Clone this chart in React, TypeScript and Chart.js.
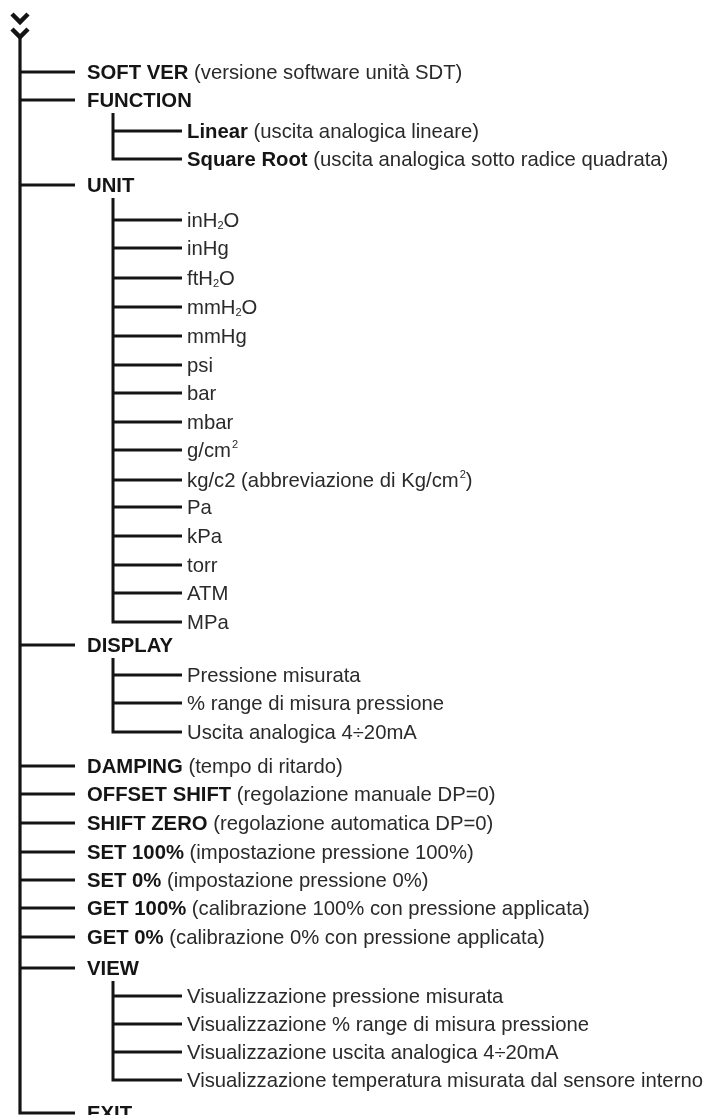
import React, { useEffect, useRef } from "react";
import { Chart, registerables } from "chart.js";

Chart.register(...registerables);

// ---- data (tree rows: y position of each row, label markup) ----
// markup: **bold**, _2 = subscript char, ^2 = superscript char
const mainLabels = [
  "**SOFT VER** (versione software unità SDT)",
  "**FUNCTION**",
  "**UNIT**",
  "**DISPLAY**",
  "**DAMPING** (tempo di ritardo)",
  "**OFFSET SHIFT** (regolazione manuale DP=0)",
  "**SHIFT ZERO** (regolazione automatica DP=0)",
  "**SET 100%** (impostazione pressione 100%)",
  "**SET 0%** (impostazione pressione 0%)",
  "**GET 100%** (calibrazione 100% con pressione applicata)",
  "**GET 0%** (calibrazione 0% con pressione applicata)",
  "**VIEW**",
  "**EXIT**",
];
const mainY = [72, 100, 185, 645, 766, 794, 823, 852, 880, 908, 937, 968, 1113];

const functionLabels = [
  "**Linear** (uscita analogica lineare)",
  "**Square Root** (uscita analogica sotto radice quadrata)",
];
const functionY = [131, 159];

const unitLabels = [
  "inH_2O", "inHg", "ftH_2O", "mmH_2O", "mmHg", "psi", "bar", "mbar", "g/cm^2",
  "kg/c2 (abbreviazione di Kg/cm^2)", "Pa", "kPa", "torr", "ATM", "MPa",
];
const unitY = [220, 248, 278, 307, 336, 365, 393, 422, 450, 480, 507, 536, 565, 593, 622];

const displayLabels = [
  "Pressione misurata",
  "% range di misura pressione",
  "Uscita analogica 4÷20mA",
];
const displayY = [675, 703, 732];

const viewLabels = [
  "Visualizzazione pressione misurata",
  "Visualizzazione % range di misura pressione",
  "Visualizzazione uscita analogica 4÷20mA",
  "Visualizzazione temperatura misurata dal sensore interno",
];
const viewY = [996, 1024, 1052, 1080];

// tree x levels
const trunkX = 20;
const mainBranchEnd = 75;
const mainTextX = 87;
const subTrunkX = 113;
const subBranchEnd = 182;
const subTextX = 187;
const trunkTop = 34;

const FONT = '"Liberation Sans", Arial, Helvetica, sans-serif';
const FS = 20.3;
const INK = "#141414";

type Pt = { x: number; y: number };

function buildLines() {
  const sets: { pts: Pt[]; w: number }[] = [];
  // chevrons
  sets.push({ pts: [{ x: 12, y: 14 }, { x: trunkX, y: 22 }, { x: 28, y: 14 }], w: 4.5 });
  sets.push({ pts: [{ x: 12, y: 29 }, { x: trunkX, y: 37 }, { x: 28, y: 29 }], w: 4.5 });
  // main trunk with final corner
  const last = mainY[mainY.length - 1];
  sets.push({
    pts: [{ x: trunkX, y: trunkTop }, { x: trunkX, y: last }, { x: mainBranchEnd, y: last }],
    w: 3.2,
  });
  mainY.slice(0, -1).forEach((y) =>
    sets.push({ pts: [{ x: trunkX, y }, { x: mainBranchEnd, y }], w: 3.2 })
  );
  const subs: [number, number[]][] = [
    [mainY[1], functionY],
    [mainY[2], unitY],
    [mainY[3], displayY],
    [mainY[11], viewY],
  ];
  subs.forEach(([py, ys]) => {
    const end = ys[ys.length - 1];
    sets.push({
      pts: [{ x: subTrunkX, y: py + 13 }, { x: subTrunkX, y: end }, { x: subBranchEnd, y: end }],
      w: 3,
    });
    ys.slice(0, -1).forEach((y) =>
      sets.push({ pts: [{ x: subTrunkX, y }, { x: subBranchEnd, y }], w: 3 })
    );
  });
  return sets;
}

function drawRich(ctx: CanvasRenderingContext2D, s: string, x0: number, y: number) {
  const parts = s.split(/(\*\*[^*]+\*\*|_\d|\^\d)/).filter((p) => p.length);
  let x = x0;
  ctx.textBaseline = "middle";
  ctx.textAlign = "left";
  for (const p of parts) {
    if (p.startsWith("**")) {
      const t = p.slice(2, -2);
      ctx.font = `bold ${FS}px ${FONT}`;
      ctx.fillStyle = "#151515";
      ctx.fillText(t, x, y);
      x += ctx.measureText(t).width;
    } else if (p.length === 2 && p[0] === "_") {
      ctx.font = `${Math.round(FS * 0.55)}px ${FONT}`;
      ctx.fillStyle = "#2a2a2a";
      ctx.fillText(p[1], x, y + 5);
      x += ctx.measureText(p[1]).width;
    } else if (p.length === 2 && p[0] === "^") {
      ctx.font = `${Math.round(FS * 0.55)}px ${FONT}`;
      ctx.fillStyle = "#2a2a2a";
      ctx.fillText(p[1], x + 1, y - 6);
      x += ctx.measureText(p[1]).width + 1;
    } else {
      ctx.font = `${FS}px ${FONT}`;
      ctx.fillStyle = "#2a2a2a";
      ctx.fillText(p, x, y);
      x += ctx.measureText(p).width;
    }
  }
}

const textGroups: { x: number; labels: string[]; ys: number[] }[] = [
  { x: mainTextX, labels: mainLabels, ys: mainY },
  { x: subTextX, labels: functionLabels, ys: functionY },
  { x: subTextX, labels: unitLabels, ys: unitY },
  { x: subTextX, labels: displayLabels, ys: displayY },
  { x: subTextX, labels: viewLabels, ys: viewY },
];

const treeText = {
  id: "treeText",
  afterDatasetsDraw(chart: any) {
    const ctx = chart.ctx as CanvasRenderingContext2D;
    const xs = chart.scales.x;
    const ys = chart.scales.y;
    ctx.save();
    for (const g of textGroups) {
      g.labels.forEach((lab, i) => {
        drawRich(ctx, lab, xs.getPixelForValue(g.x), ys.getPixelForValue(g.ys[i]) + 1);
      });
    }
    ctx.restore();
  },
};

export default function App() {
  const ref = useRef<HTMLCanvasElement | null>(null);
  useEffect(() => {
    if (!ref.current) return;
    const lines = buildLines();
    const chart = new Chart(ref.current, {
      type: "scatter",
      data: {
        datasets: lines.map((l) => ({
          data: l.pts,
          showLine: true,
          borderColor: INK,
          borderWidth: l.w,
          pointRadius: 0,
          pointHoverRadius: 0,
          fill: false,
          tension: 0,
          borderCapStyle: "butt" as const,
          borderJoinStyle: "miter" as const,
        })),
      },
      options: {
        animation: false,
        responsive: true,
        maintainAspectRatio: false,
        events: [],
        layout: { padding: 0 },
        plugins: { legend: { display: false }, tooltip: { enabled: false } },
        scales: {
          x: { type: "linear", min: 0, max: 704, display: false },
          y: { type: "linear", min: 0, max: 1115, reverse: true, display: false },
        },
      },
      plugins: [treeText],
    });
    return () => chart.destroy();
  }, []);
  return (
    <div
      style={{
        position: "absolute",
        left: 0,
        top: 0,
        width: 704,
        height: 1115,
        background: "#fff",
      }}
    >
      <canvas ref={ref} />
    </div>
  );
}
